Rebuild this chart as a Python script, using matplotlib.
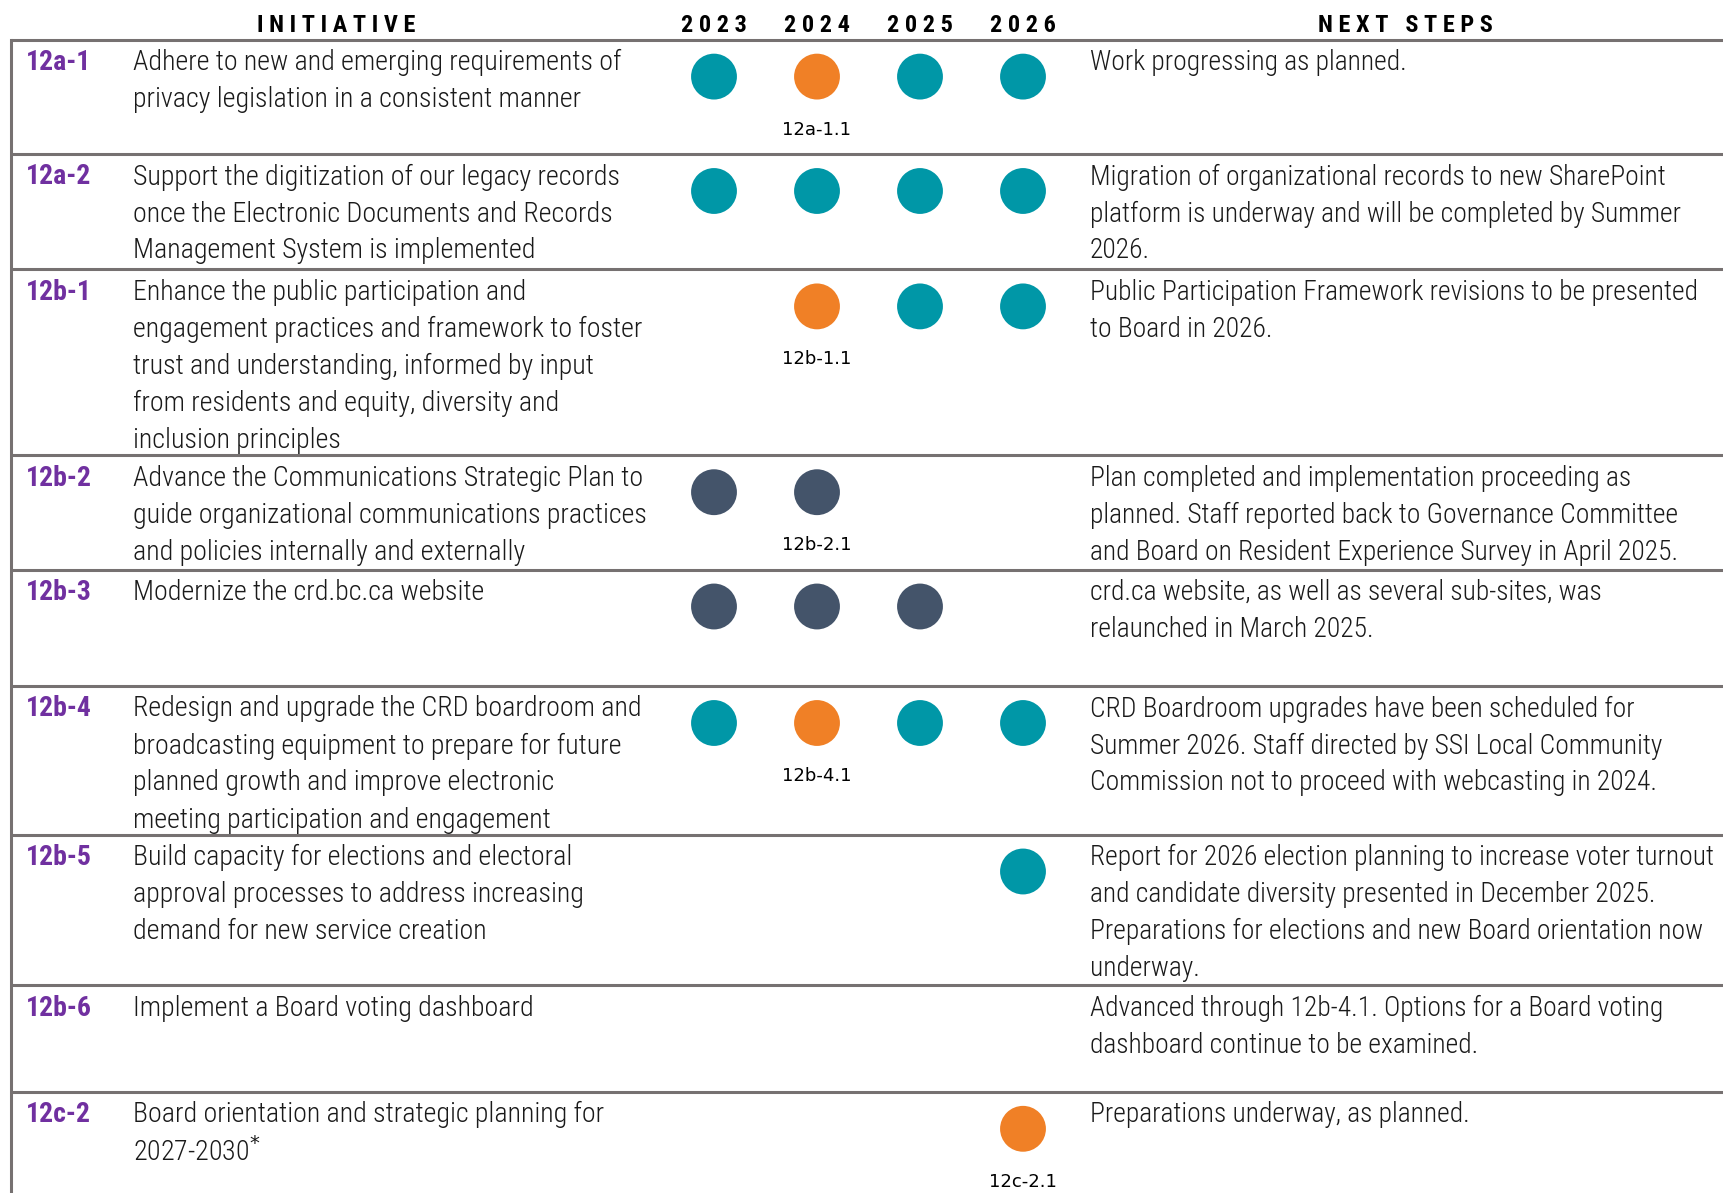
import matplotlib.pyplot as plt
import matplotlib as mpl

mpl.rcParams['font.family'] = ['Roboto Condensed', 'Liberation Sans Narrow', 'Roboto', 'DejaVu Sans']

# data
years = ['2023', '2024', '2025', '2026']
codes = ['12a-1', '12a-2', '12b-1', '12b-2', '12b-3', '12b-4', '12b-5', '12b-6', '12c-2']
initiatives = [
    'Adhere to new and emerging requirements of\nprivacy legislation in a consistent manner',
    'Support the digitization of our legacy records\nonce the Electronic Documents and Records\nManagement System is implemented',
    'Enhance the public participation and\nengagement practices and framework to foster\ntrust and understanding, informed by input\nfrom residents and equity, diversity and\ninclusion principles',
    'Advance the Communications Strategic Plan to\nguide organizational communications practices\nand policies internally and externally',
    'Modernize the crd.bc.ca website',
    'Redesign and upgrade the CRD boardroom and\nbroadcasting equipment to prepare for future\nplanned growth and improve electronic\nmeeting participation and engagement',
    'Build capacity for elections and electoral\napproval processes to address increasing\ndemand for new service creation',
    'Implement a Board voting dashboard',
    'Board orientation and strategic planning for\n2027-2030$^{*}$',
]
next_steps = [
    'Work progressing as planned.',
    'Migration of organizational records to new SharePoint\nplatform is underway and will be completed by Summer\n2026.',
    'Public Participation Framework revisions to be presented\nto Board in 2026.',
    'Plan completed and implementation proceeding as\nplanned. Staff reported back to Governance Committee\nand Board on Resident Experience Survey in April 2025.',
    'crd.ca website, as well as several sub-sites, was\nrelaunched in March 2025.',
    'CRD Boardroom upgrades have been scheduled for\nSummer 2026. Staff directed by SSI Local Community\nCommission not to proceed with webcasting in 2024.',
    'Report for 2026 election planning to increase voter turnout\nand candidate diversity presented in December 2025.\nPreparations for elections and new Board orientation now\nunderway.',
    'Advanced through 12b-4.1. Options for a Board voting\ndashboard continue to be examined.',
    'Preparations underway, as planned.',
]
# status per year: T = on track, O = changed, D = complete, None = not active
status = [
    ['T', 'O', 'T', 'T'],
    ['T', 'T', 'T', 'T'],
    [None, 'O', 'T', 'T'],
    ['D', 'D', None, None],
    ['D', 'D', 'D', None],
    ['T', 'O', 'T', 'T'],
    [None, None, None, 'T'],
    [None, None, None, None],
    [None, None, None, 'O'],
]
# sub-action labels: (year index, label)
sub_labels = [(1, '12a-1.1'), None, (1, '12b-1.1'), (1, '12b-2.1'), None,
              (1, '12b-4.1'), None, None, (3, '12c-2.1')]

colors = {'T': '#0097A7', 'O': '#F08026', 'D': '#44546A'}
purple = '#7030A0'
line_col = '#767171'

# layout (pixels)
W, H = 1724, 1193
row_tops = [39.6, 154, 269.4, 455.2, 569.5, 686, 834.5, 985.2, 1091.8]
year_x = [714, 817, 920, 1023]
code_x, desc_x, next_x = 26, 133, 1090
line_h = 37

fig = plt.figure(figsize=(W / 100, H / 100), dpi=100)
ax = fig.add_axes([0, 0, 1, 1])
ax.set_xlim(0, W)
ax.set_ylim(H, 0)
ax.axis('off')

# headers (letter spaced)
def spaced(s):
    return ' '.join(s)

hdr = dict(fontweight='bold', ha='center', va='center', color='black')
ax.text(336, 25, spaced('INITIATIVE'), fontsize=17.5, **hdr)
ax.text(1405, 25, spaced('NEXT STEPS'), fontsize=17.5, **hdr)
for x, y in zip(year_x, years):
    ax.text(x, 25, spaced(y), fontsize=17.5, **hdr)

# grid lines
for top in row_tops:
    ax.plot([11, W], [top, top], color=line_col, lw=2.2, solid_capstyle='butt')
ax.plot([11, 11], [row_tops[0], H], color=line_col, lw=2.2)

for i, top in enumerate(row_tops):
    y0 = top + 23
    ax.text(code_x, y0, codes[i], color=purple, fontsize=20, fontweight='bold',
            ha='left', va='center')
    for j, ln in enumerate(initiatives[i].split('\n')):
        ax.text(desc_x, y0 + j * line_h, ln, fontsize=20.2, fontweight='light',
                ha='left', va='center', color='#1a1a1a')
    for j, ln in enumerate(next_steps[i].split('\n')):
        ax.text(next_x, y0 + j * line_h, ln, fontsize=19.8, fontweight='light',
                ha='left', va='center', color='#1a1a1a')
    cy = top + 37
    xs = [year_x[k] for k, s in enumerate(status[i]) if s]
    cs = [colors[s] for s in status[i] if s]
    if xs:
        ax.scatter(xs, [cy] * len(xs), s=1090, c=cs, edgecolors='none', zorder=3)
    if sub_labels[i]:
        k, lab = sub_labels[i]
        ax.text(year_x[k], cy + 53, lab, fontsize=13, ha='center', va='center',
                color='black', family=['DejaVu Sans'])

fig.savefig('out.png', dpi=100)
